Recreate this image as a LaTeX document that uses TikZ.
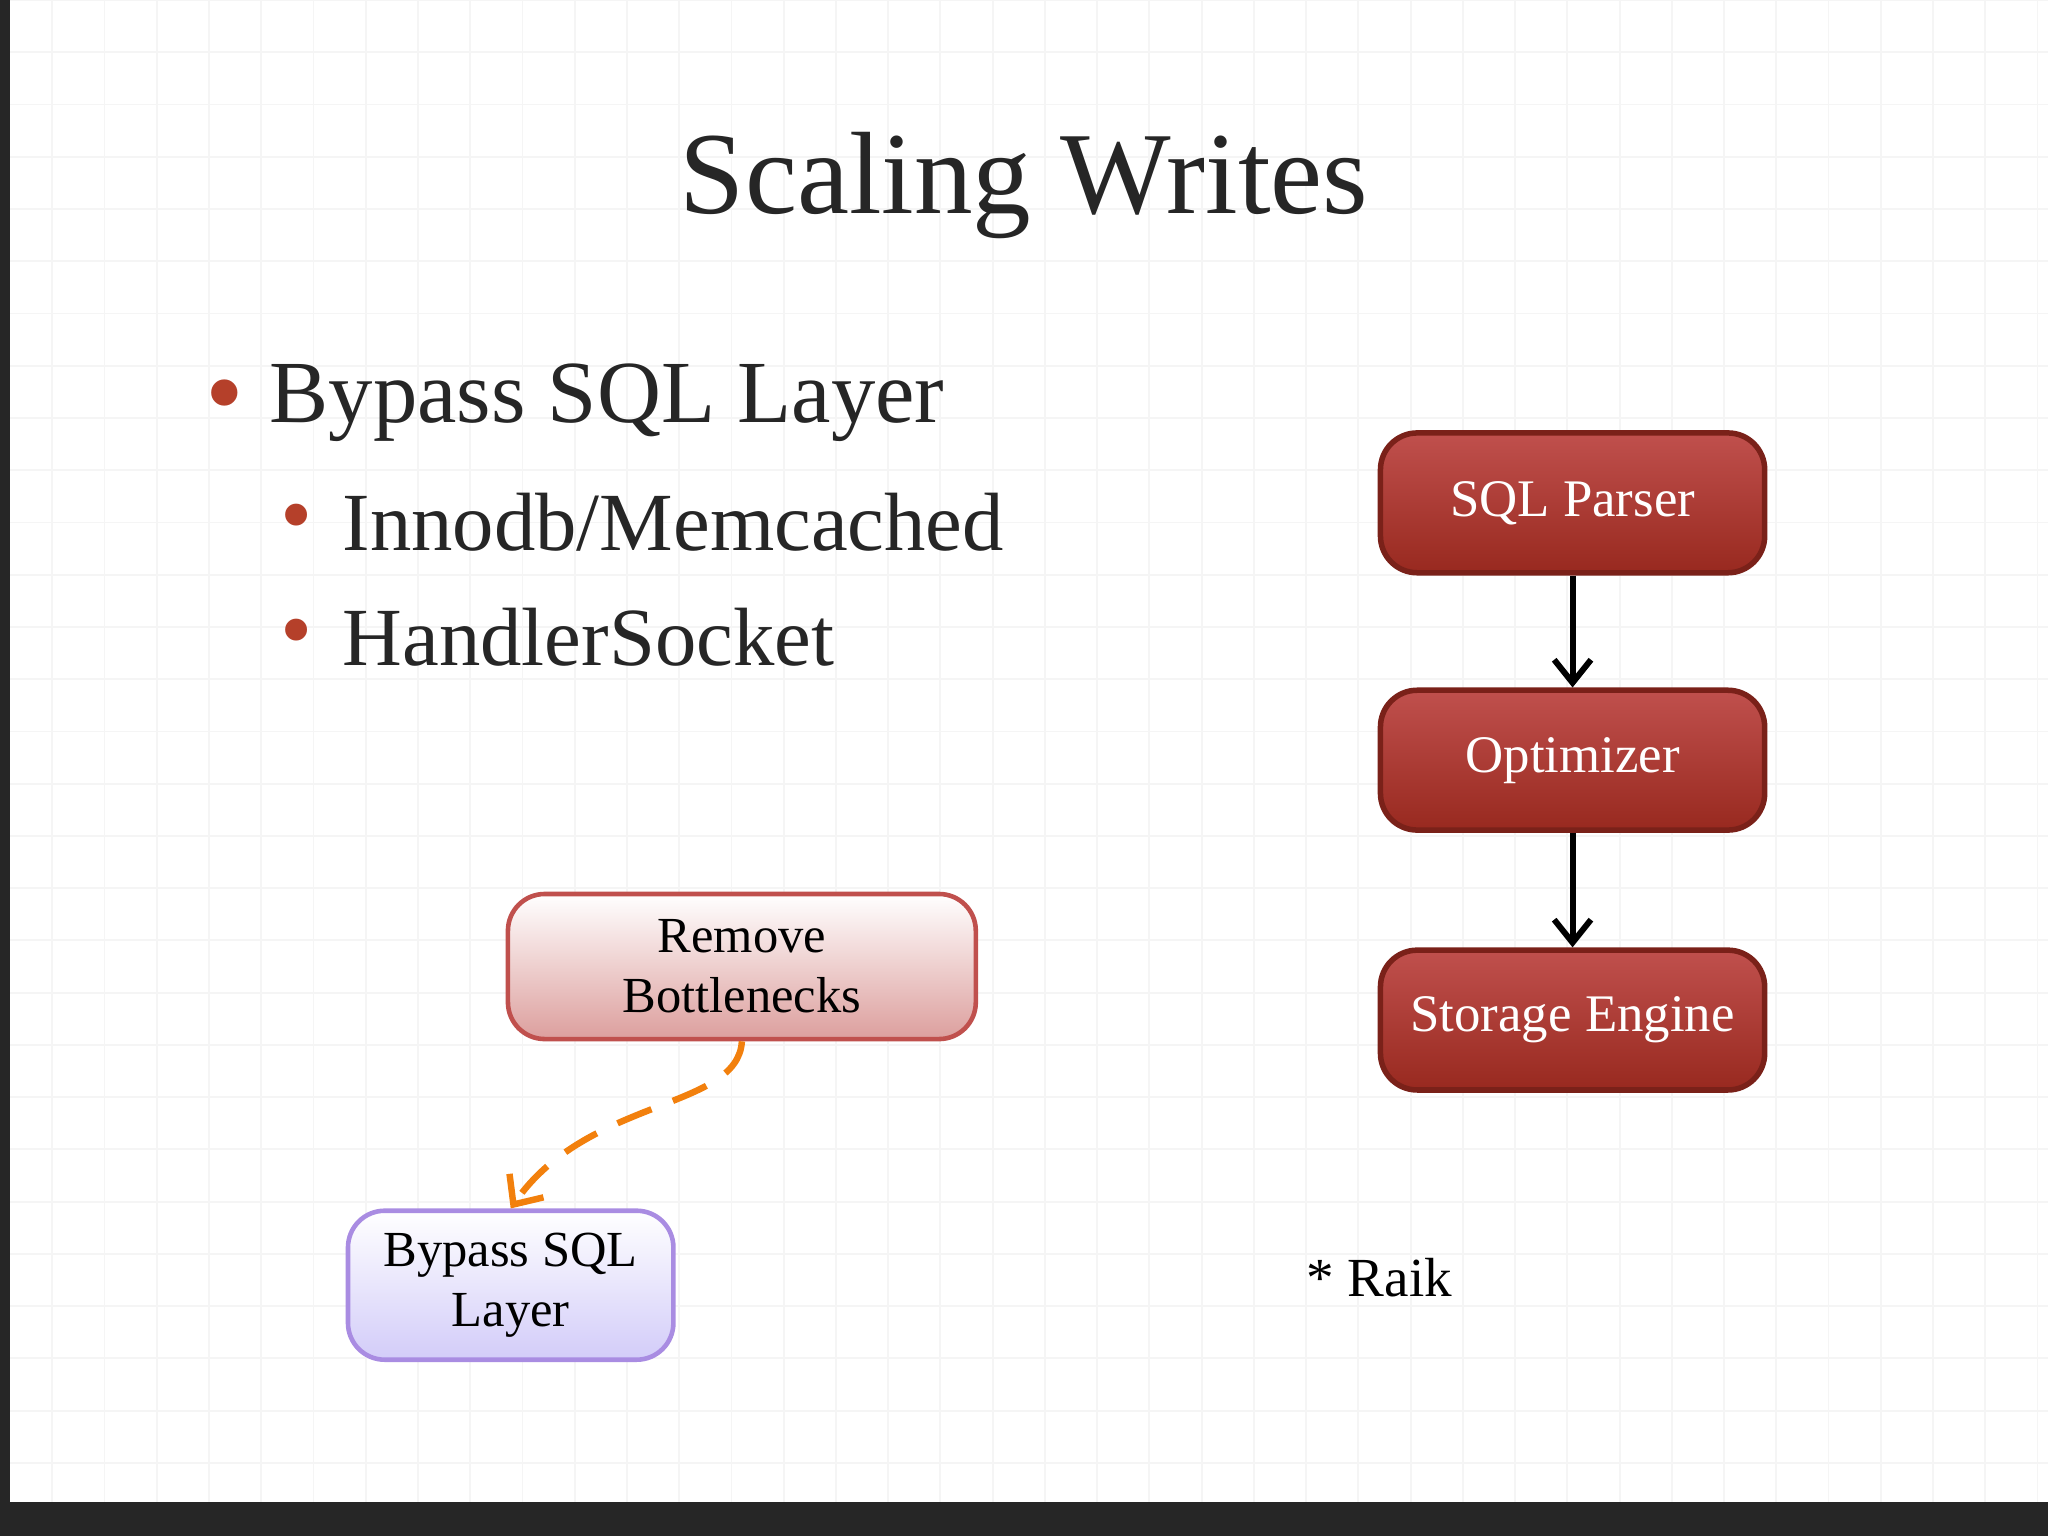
\documentclass[tikz,border=0pt]{standalone}
\usepackage{fontspec}
\setmainfont{Liberation Serif}
\usetikzlibrary{arrows.meta}
\definecolor{redA}{HTML}{C0504D}
\definecolor{redB}{HTML}{98291F}
\definecolor{txt}{HTML}{262626}
\definecolor{dot}{HTML}{B5402A}
\tikzset{
 redbox/.style={draw=redB!80!black, line width=1.2pt, rounded corners=8pt, minimum width=2.94cm, minimum height=1.07cm, top color=redA, bottom color=redB, text=white, font=\fontsize{11.5}{13}\selectfont},
 conn/.style={-{Straight Barb[length=5pt,width=8pt]}, line width=1.3pt},
 bul/.style={text=dot},
}
\begin{document}
\begin{tikzpicture}[x=0.01cm,y=-0.01cm]
\useasboundingbox (0,0) rectangle (1568,1176);
\fill[white] (0,0) rectangle (1568,1176);
\foreach \g in {0,40,...,1560} \draw[gray!8] (\g,0) -- (\g,1150);
\foreach \g in {0,40,...,1150} \draw[gray!8] (0,\g) -- (1568,\g);
\fill[black!85] (0,0) rectangle (8,1176);
\fill[black!85] (0,1150) rectangle (1568,1176);
\node[text=txt, font=\fontsize{25.5}{28}\selectfont] (title) at (784,142) {Scaling Writes};
\node[anchor=west, text=txt, font=\fontsize{19.3}{22}\selectfont] (b1) at (194,308) {Bypass SQL Layer};
\node[bul, font=\fontsize{24}{26}\selectfont] (d1) at (172,310) {•};
\node[anchor=west, text=txt, font=\fontsize{18}{20}\selectfont] (b2) at (250,400) {Innodb/Memcached};
\node[bul, font=\fontsize{20}{22}\selectfont] (d2) at (227,402) {•};
\node[anchor=west, text=txt, font=\fontsize{18}{20}\selectfont] (b3) at (250,488) {HandlerSocket};
\node[bul, font=\fontsize{20}{22}\selectfont] (d3) at (227,490) {•};
\node[redbox] (sql) at (1204,385) {SQL Parser};
\node[redbox] (opt) at (1204,582) {Optimizer};
\node[redbox] (se) at (1204,781) {Storage Engine};
\draw[conn] (sql) -- (opt);
\draw[conn] (opt) -- (se);
\node[draw=redA, line width=1pt, rounded corners=8pt, minimum width=3.58cm, minimum height=1.11cm, top color=white, bottom color=redA!55, align=center, font=\fontsize{11}{13}\selectfont, text=black] (rb) at (568,740) {Remove\\Bottlenecks};
\node[draw=violet!50!blue!45, line width=1pt, rounded corners=8pt, minimum width=2.49cm, minimum height=1.14cm, top color=white, bottom color=violet!25!blue!20, align=center, font=\fontsize{11}{13}\selectfont, text=black] (bp) at (391,984) {Bypass SQL\\Layer};
\draw[orange!80!brown, line width=1.4pt, dashed, dash pattern=on 8pt off 5pt, -{Straight Barb[length=5pt,width=9pt]}] (rb.south) .. controls (565,850) and (450,840) .. (bp.north);
\node[font=\fontsize{12}{14}\selectfont, text=black] (raik) at (1056,978) {* Raik};
\end{tikzpicture}
\end{document}
